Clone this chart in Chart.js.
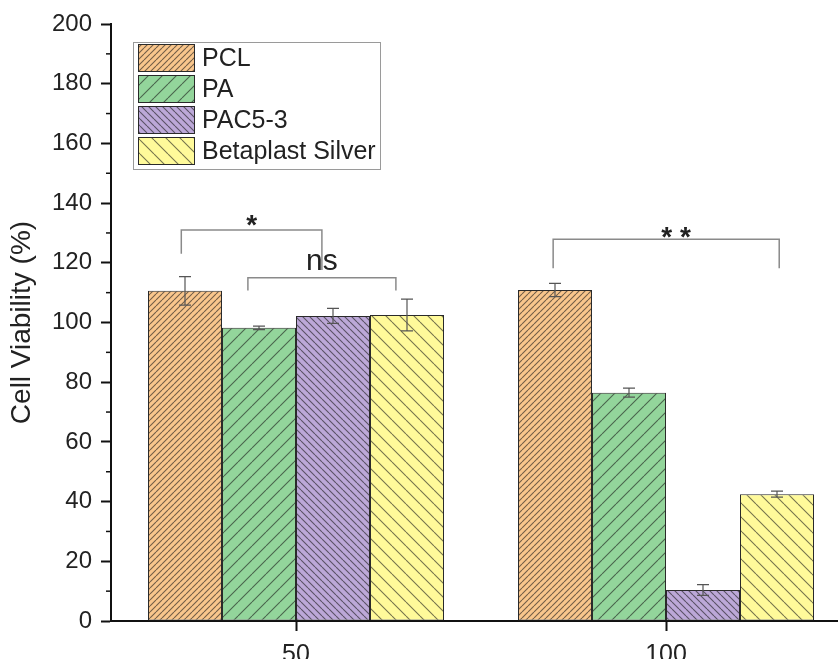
<!DOCTYPE html>
<html>
<head>
<meta charset="utf-8">
<script src="https://cdn.jsdelivr.net/npm/chart.js@4.4.1/dist/chart.umd.min.js"></script>
<style>
  html, body { margin: 0; padding: 0; background: #fff; overflow: hidden; }
  canvas { display: block; }
</style>
</head>
<body>
<canvas id="viabilityChart" width="851" height="659"></canvas>
<script>
// Concentration groups on the x axis
const categories = ['50', '100'];
const seriesNames = ['PCL', 'PA', 'PAC5-3', 'Betaplast Silver'];

// Mean cell viability (%) and error (SD) per series
const pclValues = [110.6, 110.9];
const pclErrors = [4.8, 2.2];
const paValues = [98.2, 76.5];
const paErrors = [0.6, 1.5];
const pacValues = [102.2, 10.4];
const pacErrors = [2.5, 1.8];
const betaValues = [102.5, 42.5];
const betaErrors = [5.3, 1.0];

const yTicks = [0, 20, 40, 60, 80, 100, 120, 140, 160, 180, 200];

// Significance brackets (x in category index units, y in %)
const brackets = [
    { x1: -0.31, x2: 0.07, top: 131, leg1: 123, leg2: 117.6, text: '*', tx: -0.12, ty: 135, size: 28 },
    { x1: -0.13, x2: 0.27, top: 115, leg1: 110.7, leg2: 110.7, text: 'ns', tx: 0.07, ty: 120.4, size: 30 },
    { x1: 0.695, x2: 1.306, top: 127.9, leg1: 118.2, leg2: 118.2, text: '* *', tx: 1.027, ty: 131, size: 28 }
];

const ctx = document.getElementById('viabilityChart').getContext('2d');

// hatch fill: coloured tile with thin diagonal lines
function hatch(fill, spacing, dir) {
    const c = document.createElement('canvas');
    c.width = spacing; c.height = spacing;
    const g = c.getContext('2d');
    g.fillStyle = fill;
    g.fillRect(0, 0, spacing, spacing);
    g.strokeStyle = 'rgba(25,25,25,0.6)';
    g.lineWidth = 1.1;
    g.beginPath();
    for (let k = -1; k <= 1; k++) {
        if (dir === '/') {
            g.moveTo(k * spacing, spacing);
            g.lineTo(k * spacing + spacing, 0);
        } else {
            g.moveTo(k * spacing, 0);
            g.lineTo(k * spacing + spacing, spacing);
        }
    }
    g.stroke();
    return ctx.createPattern(c, 'repeat');
}

const fills = [
    hatch('#F9C68C', 6, '/'),
    hatch('#93D59B', 14, '/'),
    hatch('#BCA8D8', 7, '\\'),
    hatch('#FFFA9A', 14, '\\')
];
const allValues = [pclValues, paValues, pacValues, betaValues];
const allErrors = [pclErrors, paErrors, pacErrors, betaErrors];

const datasets = seriesNames.map((name, i) => ({
    label: name,
    data: allValues[i],
    errors: allErrors[i],
    backgroundColor: fills[i],
    borderColor: '#2a2a2a',
    borderWidth: 1,
    borderSkipped: false,
    barPercentage: 1.0,
    categoryPercentage: 0.8
}));

const extras = {
    id: 'extras',
    afterDatasetsDraw(chart) {
        const c = chart.ctx;
        const xs = chart.scales.x;
        const ys = chart.scales.y;
        c.save();

        // error bars
        c.strokeStyle = '#555';
        c.lineWidth = 1.2;
        chart.data.datasets.forEach((ds, i) => {
            chart.getDatasetMeta(i).data.forEach((bar, j) => {
                const v = ds.data[j], e = ds.errors[j];
                const yHi = ys.getPixelForValue(v + e);
                const yLo = ys.getPixelForValue(v - e);
                c.beginPath();
                c.moveTo(bar.x, yHi); c.lineTo(bar.x, yLo);
                c.moveTo(bar.x - 6, yHi); c.lineTo(bar.x + 6, yHi);
                c.moveTo(bar.x - 6, yLo); c.lineTo(bar.x + 6, yLo);
                c.stroke();
            });
        });

        // significance brackets
        c.strokeStyle = '#8a8a8a';
        c.lineWidth = 1.5;
        c.fillStyle = '#222';
        c.textAlign = 'center';
        brackets.forEach(b => {
            const x1 = xs.getPixelForValue(b.x1), x2 = xs.getPixelForValue(b.x2);
            const yt = ys.getPixelForValue(b.top);
            c.beginPath();
            c.moveTo(x1, ys.getPixelForValue(b.leg1));
            c.lineTo(x1, yt);
            c.lineTo(x2, yt);
            c.lineTo(x2, ys.getPixelForValue(b.leg2));
            c.stroke();
            const isStar = b.text.indexOf('*') >= 0;
            c.font = (isStar ? 'bold ' : '') + b.size + 'px "Liberation Sans", Arial, sans-serif';
            c.textBaseline = isStar ? 'alphabetic' : 'middle';
            const ty = ys.getPixelForValue(b.ty) + (isStar ? b.size * 0.58 : 0);
            c.fillText(b.text, xs.getPixelForValue(b.tx), ty);
        });

        // minor ticks on y
        c.strokeStyle = '#111';
        c.lineWidth = 1.5;
        for (let v = 10; v < 200; v += 20) {
            const y = ys.getPixelForValue(v);
            c.beginPath();
            c.moveTo(chart.chartArea.left - 5, y);
            c.lineTo(chart.chartArea.left, y);
            c.stroke();
        }
        c.restore();
    },
    afterDraw(chart) {
        // legend box inside the plot
        const c = chart.ctx;
        c.save();
        c.strokeStyle = '#9a9a9a';
        c.lineWidth = 1;
        c.fillStyle = '#fff';
        c.fillRect(133.5, 42.5, 247, 127);
        c.strokeRect(133.5, 42.5, 247, 127);
        c.font = '25px "Liberation Sans", Arial, sans-serif';
        c.textBaseline = 'middle';
        c.textAlign = 'left';
        chart.data.datasets.forEach((ds, i) => {
            const top = 44.5 + i * 31;
            c.fillStyle = ds.backgroundColor;
            c.fillRect(138.5, top, 56, 27);
            c.strokeStyle = '#2a2a2a';
            c.strokeRect(138.5, top, 56, 27);
            c.fillStyle = '#222';
            c.fillText(ds.label, 202, top + 15);
        });
        c.restore();
    }
};

new Chart(ctx, {
    type: 'bar',
    data: { labels: categories, datasets: datasets },
    options: {
        responsive: false,
        animation: false,
        layout: { padding: { top: 24, left: 0, right: 0, bottom: 0 } },
        plugins: { legend: { display: false }, tooltip: { enabled: false } },
        scales: {
            x: {
                offset: true,
                grid: { display: true, drawOnChartArea: false, offset: false, tickLength: 10, tickColor: '#111', tickWidth: 2 },
                border: { color: '#111', width: 2 },
                ticks: { color: '#222', font: { family: '"Liberation Sans", Arial, sans-serif', size: 25 }, padding: 9 },
                afterFit: s => { s.height = 38; }
            },
            y: {
                min: 0,
                max: 200,
                afterBuildTicks: s => { s.ticks = yTicks.map(v => ({ value: v })); },
                grid: { drawOnChartArea: false, tickLength: 10, tickColor: '#111', tickWidth: 2 },
                border: { color: '#111', width: 2 },
                ticks: { color: '#222', font: { family: '"Liberation Sans", Arial, sans-serif', size: 24 }, padding: 9 },
                title: {
                    display: true,
                    text: 'Cell Viability (%)',
                    color: '#222',
                    font: { family: '"Liberation Sans", Arial, sans-serif', size: 28 },
                    padding: { top: 5, bottom: 0 }
                },
                afterFit: s => { s.width = 111; }
            }
        }
    },
    plugins: [extras]
});
</script>
</body>
</html>
